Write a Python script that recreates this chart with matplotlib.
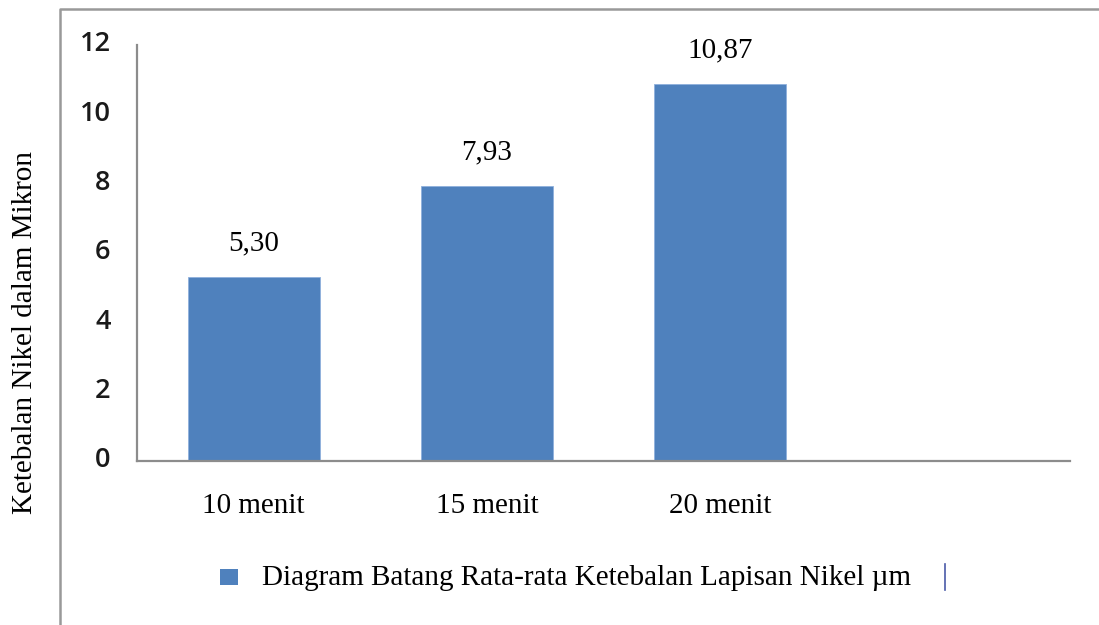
import matplotlib
matplotlib.use("Agg")
import matplotlib.pyplot as plt
import matplotlib.transforms as mtransforms
from matplotlib.lines import Line2D
from matplotlib.patches import Rectangle

categories = ["10 menit", "15 menit", "20 menit", ""]
values = [5.30, 7.93, 10.87, None]
value_labels = ["5,30", "7,93", "10,87"]
yticks = [0, 2, 4, 6, 8, 10, 12]
ylabel = "Ketebalan Nikel dalam Mikron"
legend_label = "Diagram Batang Rata-rata Ketebalan Lapisan Nikel \u00b5m"

W, H = 1099, 625
BAR = "#4F81BD"
SERIF = ["Liberation Serif", "DejaVu Serif"]
SANS = ["Open Sans", "DejaVu Sans"]

fig = plt.figure(figsize=(W / 100, H / 100), dpi=100)
fig.patch.set_facecolor("white")

def fx(px):
    return px / W

def fy(py):
    return 1 - py / H

ax = fig.add_axes([fx(137), fy(461), fx(1070) - fx(137), fy(45) - fy(461)])

xs = [i for i, v in enumerate(values) if v is not None]
vs = [v for v in values if v is not None]
ax.bar(xs, vs, width=0.565, color=BAR, edgecolor="#8fb0dc", linewidth=0.6, zorder=2)
for x, v, lab in zip(xs, vs, value_labels):
    ax.annotate(lab, (x, v), xytext=(0, 15), textcoords="offset points",
                ha="center", va="bottom", fontsize=21, family=SERIF)

ax.set_xlim(-0.5, len(categories) - 0.5)
ax.set_ylim(0, 12)
ax.set_yticks(yticks)
ax.set_yticklabels([str(t) for t in yticks], family=SANS, fontsize=19.5,
                   color="#1a1a1a", fontweight="semibold")
ax.set_xticks(range(len(categories)))
ax.set_xticklabels(categories, family=SERIF, fontsize=21)
ax.tick_params(axis="y", length=0, pad=19)
ax.tick_params(axis="x", length=0, pad=23)
off = mtransforms.ScaledTranslation(0, 3 / 72, fig.dpi_scale_trans)
for lab in ax.get_yticklabels():
    lab.set_transform(lab.get_transform() + off)
for s in ["top", "right"]:
    ax.spines[s].set_visible(False)
for s in ["left", "bottom"]:
    ax.spines[s].set_color("#8c8c8c")
    ax.spines[s].set_linewidth(1.6)

fig.text(fx(25), fy(332), ylabel, rotation=90, ha="center", va="center",
         fontsize=21, family=SERIF)

# legend
fig.patches.append(Rectangle((fx(220), fy(585)), fx(238) - fx(220), fy(569) - fy(585),
                             transform=fig.transFigure, facecolor=BAR, edgecolor="none"))
fig.text(fx(262), fy(578), legend_label, ha="left", va="center", fontsize=21, family=SERIF)
fig.lines.append(Line2D([fx(945), fx(945)], [fy(564), fy(590)], transform=fig.transFigure,
                        color="#4a5aa8", linewidth=1.2))

# outer chart-area border (partly cropped)
fig.lines.append(Line2D([fx(60), fx(60), fx(1099)], [fy(625), fy(9), fy(9)],
                        transform=fig.transFigure, color="#999999", linewidth=1.8))

fig.savefig("out.png", dpi=100, facecolor="white")
